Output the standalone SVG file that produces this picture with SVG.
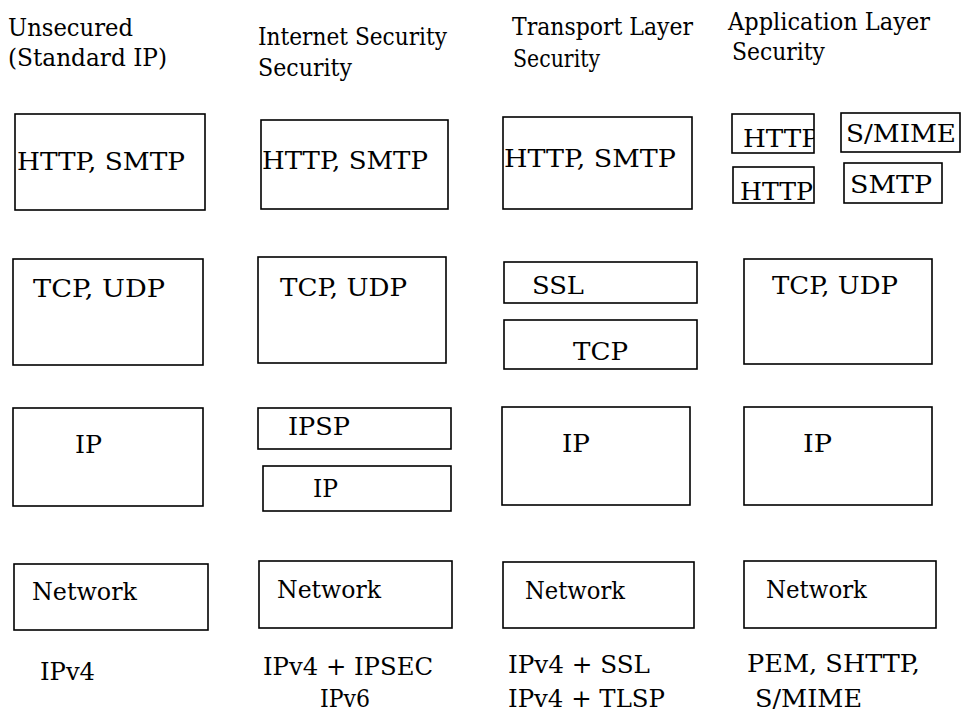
<svg xmlns="http://www.w3.org/2000/svg" width="961" height="714" viewBox="0 0 961 714" font-family="'DejaVu Serif', 'Liberation Serif', serif">
<style>
  .box { fill: none; stroke: #000; stroke-width: 1.6; }
  text { font-family: "DejaVu Serif", "Liberation Serif", serif; font-size: 25px; fill: #000; }
</style>
<defs>
  <clipPath id="clipHttp1"><rect x="732" y="114" width="82" height="39"/></clipPath>
</defs>
<rect width="961" height="714" fill="#fff"/>

<g id="headers">
  <text x="8" y="36" textLength="125" lengthAdjust="spacingAndGlyphs">Unsecured</text>
  <text x="8" y="66" textLength="159" lengthAdjust="spacingAndGlyphs">(Standard IP)</text>
  <text x="258" y="45" textLength="189" lengthAdjust="spacingAndGlyphs">Internet Security</text>
  <text x="258" y="76" textLength="94" lengthAdjust="spacingAndGlyphs">Security</text>
  <text x="512" y="35" textLength="181" lengthAdjust="spacingAndGlyphs">Transport Layer</text>
  <text x="513" y="67" textLength="87" lengthAdjust="spacingAndGlyphs">Security</text>
  <text x="728" y="30" textLength="202" lengthAdjust="spacingAndGlyphs">Application Layer</text>
  <text x="732" y="60" textLength="93" lengthAdjust="spacingAndGlyphs">Security</text>
</g>

<!-- Column 1: Unsecured -->
<g id="c1-app">
  <rect class="box" x="15" y="114" width="190" height="96"/>
  <text x="17" y="170" textLength="168" lengthAdjust="spacingAndGlyphs">HTTP, SMTP</text>
</g>
<g id="c1-transport">
  <rect class="box" x="13" y="259" width="190" height="106"/>
  <text x="33" y="297" textLength="132" lengthAdjust="spacingAndGlyphs">TCP, UDP</text>
</g>
<g id="c1-ip">
  <rect class="box" x="13" y="408" width="190" height="98"/>
  <text x="75" y="453" textLength="27" lengthAdjust="spacingAndGlyphs">IP</text>
</g>
<g id="c1-network">
  <rect class="box" x="14" y="564" width="194" height="66"/>
  <text x="32" y="600" textLength="105" lengthAdjust="spacingAndGlyphs">Network</text>
</g>
<g id="c1-label">
  <text x="40" y="680" textLength="55" lengthAdjust="spacingAndGlyphs">IPv4</text>
</g>

<!-- Column 2: Internet Security -->
<g id="c2-app">
  <rect class="box" x="261" y="120" width="187" height="89"/>
  <text x="262" y="169" textLength="166" lengthAdjust="spacingAndGlyphs">HTTP, SMTP</text>
</g>
<g id="c2-transport">
  <rect class="box" x="258" y="257" width="188" height="106"/>
  <text x="280" y="296" textLength="127" lengthAdjust="spacingAndGlyphs">TCP, UDP</text>
</g>
<g id="c2-ipsp">
  <rect class="box" x="258" y="408" width="193" height="41"/>
  <text x="288" y="435" textLength="62" lengthAdjust="spacingAndGlyphs">IPSP</text>
</g>
<g id="c2-ip">
  <rect class="box" x="263" y="466" width="188" height="45"/>
  <text x="313" y="497" textLength="25" lengthAdjust="spacingAndGlyphs">IP</text>
</g>
<g id="c2-network">
  <rect class="box" x="259" y="561" width="193" height="67"/>
  <text x="277" y="598" textLength="104" lengthAdjust="spacingAndGlyphs">Network</text>
</g>
<g id="c2-label">
  <text x="263" y="675" textLength="170" lengthAdjust="spacingAndGlyphs">IPv4 + IPSEC</text>
  <text x="320" y="707" textLength="50" lengthAdjust="spacingAndGlyphs">IPv6</text>
</g>

<!-- Column 3: Transport Layer Security -->
<g id="c3-app">
  <rect class="box" x="503" y="117" width="189" height="92"/>
  <text x="504" y="167" textLength="172" lengthAdjust="spacingAndGlyphs">HTTP, SMTP</text>
</g>
<g id="c3-ssl">
  <rect class="box" x="504" y="262" width="193" height="41"/>
  <text x="532" y="294" textLength="52" lengthAdjust="spacingAndGlyphs">SSL</text>
</g>
<g id="c3-tcp">
  <rect class="box" x="504" y="320" width="193" height="49"/>
  <text x="573" y="360" textLength="55" lengthAdjust="spacingAndGlyphs">TCP</text>
</g>
<g id="c3-ip">
  <rect class="box" x="502" y="407" width="188" height="98"/>
  <text x="562" y="452" textLength="28" lengthAdjust="spacingAndGlyphs">IP</text>
</g>
<g id="c3-network">
  <rect class="box" x="503" y="562" width="191" height="66"/>
  <text x="525" y="599" textLength="100" lengthAdjust="spacingAndGlyphs">Network</text>
</g>
<g id="c3-label">
  <text x="508" y="673" textLength="142" lengthAdjust="spacingAndGlyphs">IPv4 + SSL</text>
  <text x="508" y="707" textLength="157" lengthAdjust="spacingAndGlyphs">IPv4 + TLSP</text>
</g>

<!-- Column 4: Application Layer Security -->
<g id="c4-http1">
  <rect class="box" x="732" y="114" width="82" height="39"/>
  <text x="743" y="147" clip-path="url(#clipHttp1)" textLength="76" lengthAdjust="spacingAndGlyphs">HTTP</text>
</g>
<g id="c4-smime">
  <rect class="box" x="841" y="113" width="119" height="39"/>
  <text x="846" y="142" textLength="110" lengthAdjust="spacingAndGlyphs">S/MIME</text>
</g>
<g id="c4-http2">
  <rect class="box" x="733" y="167" width="81" height="36"/>
  <text x="740" y="200" textLength="73" lengthAdjust="spacingAndGlyphs">HTTP</text>
</g>
<g id="c4-smtp">
  <rect class="box" x="844" y="163" width="98" height="40"/>
  <text x="850" y="193" textLength="82" lengthAdjust="spacingAndGlyphs">SMTP</text>
</g>
<g id="c4-transport">
  <rect class="box" x="744" y="259" width="188" height="105"/>
  <text x="772" y="294" textLength="126" lengthAdjust="spacingAndGlyphs">TCP, UDP</text>
</g>
<g id="c4-ip">
  <rect class="box" x="744" y="407" width="188" height="98"/>
  <text x="803" y="452" textLength="29" lengthAdjust="spacingAndGlyphs">IP</text>
</g>
<g id="c4-network">
  <rect class="box" x="744" y="561" width="192" height="67"/>
  <text x="766" y="598" textLength="101" lengthAdjust="spacingAndGlyphs">Network</text>
</g>
<g id="c4-label">
  <text x="747" y="672" textLength="173" lengthAdjust="spacingAndGlyphs">PEM, SHTTP,</text>
  <text x="755" y="707" textLength="107" lengthAdjust="spacingAndGlyphs">S/MIME</text>
</g>
</svg>
